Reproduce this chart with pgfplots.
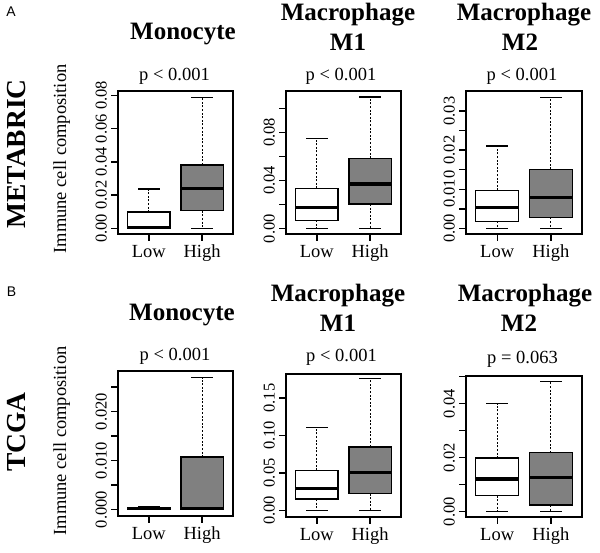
\documentclass[border=0pt]{standalone}
\usepackage{fontspec}
\setmainfont{Liberation Serif}
\newfontfamily\arialfont{Liberation Sans}
\usepackage{pgfplots}
\pgfplotsset{compat=1.18}
\usepgfplotslibrary{statistics}
\definecolor{boxgray}{RGB}{128,128,128}

\pgfplotsset{
  rbox/.style={
    scale only axis, anchor=south west, clip=false,
    xmin=0.42, xmax=2.58,
    xtick={1,2}, xticklabels={Low,High},
    tick align=outside, major tick length=7pt,
    xtick pos=left, ytick pos=left,
    scaled y ticks=false,
    axis line style={line width=1.3pt},
    every tick/.style={black, line width=1.3pt},
    xticklabel style={font=\fontsize{18.5}{18.5}\selectfont, anchor=base, inner sep=0pt, yshift=-17pt},
    yticklabel style={font=\fontsize{16.5}{16.5}\selectfont, rotate=90, anchor=south, inner sep=4pt},
    boxplot/draw direction=y,
    boxplot/box extend=0.8,
    boxplot/whisker extend=0.4,
    boxplot/every box/.style={line width=1.4pt, draw=black},
    boxplot/every median/.style={line width=3.2pt, draw=black},
    boxplot/draw/lower whisker/.code={%
      \draw[dash pattern=on 2pt off 1.6pt, line width=1.2pt, fill=none, draw=black]
        (boxplot cs:\pgfplotsboxplotvalue{lower quartile}) -- (boxplot cs:\pgfplotsboxplotvalue{lower whisker});
      \draw[line width=1.4pt, fill=none, draw=black]
        (boxplot whisker cs:\pgfplotsboxplotvalue{lower whisker},0) -- (boxplot whisker cs:\pgfplotsboxplotvalue{lower whisker},1);
    },
    boxplot/draw/upper whisker/.code={%
      \draw[dash pattern=on 2pt off 1.6pt, line width=1.2pt, fill=none, draw=black]
        (boxplot cs:\pgfplotsboxplotvalue{upper quartile}) -- (boxplot cs:\pgfplotsboxplotvalue{upper whisker});
      \draw[line width=1.4pt, fill=none, draw=black]
        (boxplot whisker cs:\pgfplotsboxplotvalue{upper whisker},0) -- (boxplot whisker cs:\pgfplotsboxplotvalue{upper whisker},1);
    },
  },
  lowbox/.style={draw=black, fill=white},
  highbox/.style={draw=black, fill=boxgray},
}
\newcommand{\titlefont}{\fontsize{25}{25}\selectfont\bfseries}
\newcommand{\pfont}{\fontsize{18.5}{18.5}\selectfont}

\begin{document}
\begin{tikzpicture}
\useasboundingbox (0pt,0pt) rectangle (600pt,553pt);

% ---------- Row A: METABRIC ----------
\begin{axis}[rbox, at={(118pt,319pt)}, width=115pt, height=143pt,
  ymin=-0.00335, ymax=0.0826,
  ytick={0,0.02,0.04,0.06,0.08}, yticklabels={0.00,0.02,0.04,0.06,0.08}]
\addplot[lowbox, boxplot prepared={draw position=1, lower whisker=0, lower quartile=0.0002, median=0.0005, upper quartile=0.0098, upper whisker=0.0236}] coordinates {};
\addplot[highbox, boxplot prepared={draw position=2, lower whisker=0, lower quartile=0.0106, median=0.0239, upper quartile=0.0381, upper whisker=0.0788}] coordinates {};
\end{axis}

\begin{axis}[rbox, at={(286pt,319pt)}, width=115pt, height=143pt,
  ymin=-0.0044, ymax=0.1143,
  ytick={0,0.02,0.04,0.06,0.08,0.10}, yticklabels={0.00,{},0.04,{},0.08,{}}]
\addplot[lowbox, boxplot prepared={draw position=1, lower whisker=0, lower quartile=0.0070, median=0.0178, upper quartile=0.0335, upper whisker=0.0747}] coordinates {};
\addplot[highbox, boxplot prepared={draw position=2, lower whisker=0, lower quartile=0.0205, median=0.0371, upper quartile=0.0584, upper whisker=0.1093}] coordinates {};
\end{axis}

\begin{axis}[rbox, at={(466pt,319pt)}, width=116pt, height=143pt,
  ymin=-0.00142, ymax=0.0351,
  ytick={0,0.005,0.01,0.015,0.02,0.025,0.03}, yticklabels={0.00,{},0.010,{},0.02,{},0.03}]
\addplot[lowbox, boxplot prepared={draw position=1, lower whisker=0, lower quartile=0.0018, median=0.0054, upper quartile=0.0097, upper whisker=0.0211}] coordinates {};
\addplot[highbox, boxplot prepared={draw position=2, lower whisker=0, lower quartile=0.0028, median=0.0079, upper quartile=0.0151, upper whisker=0.0335}] coordinates {};
\end{axis}

% ---------- Row B: TCGA ----------
\begin{axis}[rbox, at={(118pt,37pt)}, width=115pt, height=145pt,
  ymin=-0.0013, ymax=0.02826,
  ytick={0,0.005,0.01,0.015,0.02,0.025}, yticklabels={0.000,{},0.010,{},0.020,{}}]
\addplot[lowbox, boxplot prepared={draw position=1, lower whisker=0, lower quartile=0, median=0.0002, upper quartile=0.0004, upper whisker=0.0005}] coordinates {};
\addplot[highbox, boxplot prepared={draw position=2, lower whisker=0, lower quartile=0.0001, median=0.0003, upper quartile=0.0107, upper whisker=0.0269}] coordinates {};
\end{axis}

\begin{axis}[rbox, at={(286pt,36pt)}, width=115pt, height=143pt,
  ymin=-0.009, ymax=0.1823,
  ytick={0,0.05,0.10,0.15}, yticklabels={0.00,0.05,0.10,0.15}]
\addplot[lowbox, boxplot prepared={draw position=1, lower whisker=0, lower quartile=0.0152, median=0.0292, upper quartile=0.0534, upper whisker=0.1106}] coordinates {};
\addplot[highbox, boxplot prepared={draw position=2, lower whisker=0, lower quartile=0.0224, median=0.0502, upper quartile=0.0847, upper whisker=0.176}] coordinates {};
\end{axis}

\begin{axis}[rbox, at={(466pt,36pt)}, width=116pt, height=141pt,
  ymin=-0.00195, ymax=0.0502,
  ytick={0,0.01,0.02,0.03,0.04,0.05}, yticklabels={0.00,{},0.02,{},0.04,{}}]
\addplot[lowbox, boxplot prepared={draw position=1, lower whisker=0, lower quartile=0.0059, median=0.0121, upper quartile=0.0198, upper whisker=0.040}] coordinates {};
\addplot[highbox, boxplot prepared={draw position=2, lower whisker=0, lower quartile=0.0025, median=0.0128, upper quartile=0.0218, upper whisker=0.0482}] coordinates {};
\end{axis}

% ---------- Titles and labels ----------
\node[anchor=base, font=\titlefont] at (183pt,513.7pt) {Monocyte};
\node[anchor=base, font=\titlefont] at (348pt,532.3pt) {Macrophage};
\node[anchor=base, font=\titlefont] at (348pt,502pt) {M1};
\node[anchor=base, font=\titlefont] at (524pt,532.3pt) {Macrophage};
\node[anchor=base, font=\titlefont] at (520pt,502pt) {M2};

\node[anchor=base, font=\titlefont] at (182pt,232.3pt) {Monocyte};
\node[anchor=base, font=\titlefont] at (338pt,251.3pt) {Macrophage};
\node[anchor=base, font=\titlefont] at (338pt,221.3pt) {M1};
\node[anchor=base, font=\titlefont] at (525pt,251.3pt) {Macrophage};
\node[anchor=base, font=\titlefont] at (519pt,221.3pt) {M2};

\node[anchor=base, font=\pfont] at (174.5pt,472pt) {p < 0.001};
\node[anchor=base, font=\pfont] at (341pt,472pt) {p < 0.001};
\node[anchor=base, font=\pfont] at (522pt,472pt) {p < 0.001};
\node[anchor=base, font=\pfont] at (175pt,192pt) {p < 0.001};
\node[anchor=base, font=\pfont] at (341.5pt,191.3pt) {p < 0.001};
\node[anchor=base, font=\pfont] at (522.5pt,189.7pt) {p = 0.063};

\node[rotate=90, font=\fontsize{18.5}{18.5}\selectfont] at (61.7pt,394pt) {Immune cell composition};
\node[rotate=90, font=\fontsize{18.5}{18.5}\selectfont] at (61.7pt,112pt) {Immune cell composition};

\node[rotate=90, font=\fontsize{27.5}{27.5}\selectfont\bfseries] at (17pt,399pt) {METABRIC};
\node[rotate=90, font=\fontsize{27.5}{27.5}\selectfont\bfseries] at (17pt,121pt) {TCGA};

\node[font=\arialfont\fontsize{14}{14}\selectfont] at (11pt,541pt) {A};
\node[font=\arialfont\fontsize{14}{14}\selectfont] at (11.5pt,261pt) {B};
\end{tikzpicture}
\end{document}
